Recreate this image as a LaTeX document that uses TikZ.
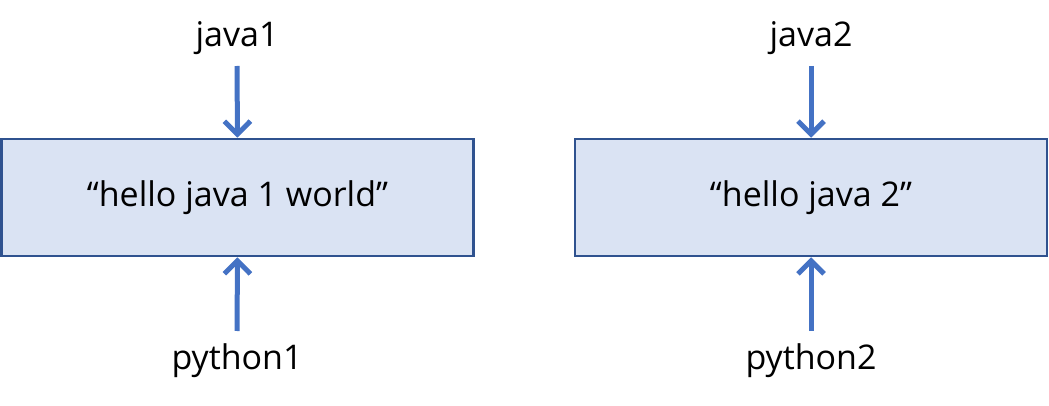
\documentclass[tikz,border=0pt]{standalone}
\usepackage{fontspec}
\setmainfont{Open Sans}
\usetikzlibrary{arrows.meta}
\definecolor{boxfill}{HTML}{DAE3F3}
\definecolor{boxdraw}{HTML}{2F528F}
\definecolor{arrowc}{HTML}{4472C4}
\begin{document}
\begin{tikzpicture}[x=1pt,y=-1pt,
  box/.style={draw=boxdraw,fill=boxfill,line width=2.5pt,minimum width=472pt,minimum height=117pt,inner sep=0pt,font=\fontsize{34}{40}\selectfont},
  lbl/.style={font=\fontsize{34}{40}\selectfont,inner sep=0pt},
  arr/.style={draw=arrowc,line width=5pt,-{Straight Barb[length=13pt,width=26pt,line width=5pt]}}]
\useasboundingbox (0,0) rectangle (1049,406);
\node[box] (b1) at (237.5,197.5) {“hello java 1 world”};
\node[box] (b2) at (811,197.5) {“hello java 2”};
\node[lbl] (j1) at (237,38) {java1};
\node[lbl] (j2) at (811,38) {java2};
\node[lbl] (p1) at (237,361) {python1};
\node[lbl] (p2) at (811,361) {python2};
\coordinate (j1s) at (237,66);
\coordinate (j2s) at (811,66);
\coordinate (p1s) at (237,331);
\coordinate (p2s) at (811,331);
\draw[arr] (j1s) -- (b1.north);
\draw[arr] (j2s) -- (b2.north);
\draw[arr] (p1s) -- (b1.south);
\draw[arr] (p2s) -- (b2.south);
\end{tikzpicture}
\end{document}
